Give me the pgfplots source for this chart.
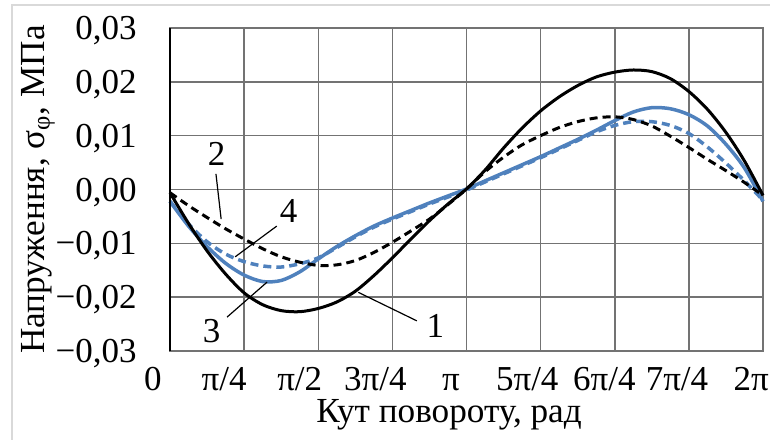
\documentclass[border=0pt]{standalone}
\usepackage{fontspec}
\setmainfont{Liberation Serif}
\usepackage{pgfplots}
\usepackage{pgfplotstable}
\pgfplotsset{compat=1.18}
\definecolor{blu}{HTML}{4F81BD}
\definecolor{gridc}{gray}{0.45}
\definecolor{framec}{gray}{0.85}
\newcommand\tf{\fontsize{17.5}{20}\selectfont}
\newcommand\lf{\fontsize{17.6}{21}\selectfont}

\pgfplotstableread{
t v
0 -0.0006
0.25 -0.0063
0.5 -0.0114
0.75 -0.0157
1.0 -0.0192
1.25 -0.0214
1.5 -0.0225
1.75 -0.0227
2.0 -0.0221
2.25 -0.0209
2.5 -0.0189
2.75 -0.0160
3.0 -0.0127
3.25 -0.0092
3.5 -0.0058
3.75 -0.0027
4.0 0.0001
4.25 0.0036
4.5 0.0077
4.75 0.0114
5.0 0.0146
5.25 0.0172
5.5 0.0193
5.75 0.0209
6.0 0.0218
6.25 0.0222
6.5 0.0219
6.75 0.0206
7.0 0.0182
7.25 0.0149
7.5 0.0106
7.75 0.0053
8.0 -0.0011
}\curveone

\pgfplotstableread{
t v
0 -0.0006
0.25 -0.0030
0.5 -0.0052
0.75 -0.0073
1.0 -0.0092
1.25 -0.0110
1.5 -0.0125
1.75 -0.0135
2.0 -0.0141
2.25 -0.0140
2.5 -0.0132
2.75 -0.0117
3.0 -0.0098
3.25 -0.0077
3.5 -0.0055
3.75 -0.0028
4.0 0.0001
4.25 0.0033
4.5 0.0060
4.75 0.0083
5.0 0.0100
5.25 0.0115
5.5 0.0126
5.75 0.0133
6.0 0.0135
6.25 0.0130
6.5 0.0118
6.75 0.0099
7.0 0.0078
7.25 0.0056
7.5 0.0035
7.75 0.0013
8.0 -0.0011
}\curvetwo

\pgfplotstableread{
t v
0 -0.0022
0.25 -0.0068
0.5 -0.0106
0.75 -0.0137
1.0 -0.0159
1.25 -0.0171
1.5 -0.0169
1.75 -0.0153
2.0 -0.0129
2.25 -0.0106
2.5 -0.0086
2.75 -0.0068
3.0 -0.0053
3.25 -0.0039
3.5 -0.0025
3.75 -0.0012
4.0 0.0001
4.25 0.0016
4.5 0.0031
4.75 0.0046
5.0 0.0061
5.25 0.0077
5.5 0.0093
5.75 0.0110
6.0 0.0128
6.25 0.0144
6.5 0.0152
6.75 0.0150
7.0 0.0139
7.25 0.0118
7.5 0.0084
7.75 0.0040
8.0 -0.0022
}\curvethree

\pgfplotstableread{
t v
0 -0.0022
0.25 -0.0064
0.5 -0.0097
0.75 -0.0120
1.0 -0.0134
1.25 -0.0142
1.5 -0.0144
1.75 -0.0138
2.0 -0.0127
2.25 -0.0108
2.5 -0.0088
2.75 -0.0070
3.0 -0.0055
3.25 -0.0041
3.5 -0.0027
3.75 -0.0014
4.0 -0.0001
4.25 0.0014
4.5 0.0029
4.75 0.0044
5.0 0.0059
5.25 0.0075
5.5 0.0091
5.75 0.0107
6.0 0.0119
6.25 0.0126
6.5 0.0126
6.75 0.0119
7.0 0.0104
7.25 0.0079
7.5 0.0049
7.75 0.0016
8.0 -0.0020
}\curvefour

\begin{document}
\begin{tikzpicture}
\draw[framec, line width=1pt] (6pt,-10pt) -- (6pt,216.75pt) -- (400pt,216.75pt);
\begin{axis}[
  at={(85pt,44pt)}, anchor=south west,
  scale only axis, width=296.5pt, height=161.5pt,
  xmin=0, xmax=8, ymin=-0.03, ymax=0.03,
  scaled x ticks=false, scaled y ticks=false,
  xtick={0.73,1.75,2.77,3.79,4.82,5.86,6.84,7.84},
  xticklabels={π/4,π/2,3π/4,π,5π/4,6π/4,7π/4,2π},
  extra x ticks={0},
  extra x tick labels={0},
  extra x tick style={grid=none, xticklabel style={xshift=-8.5pt}},
  minor xtick={1,2,3,4,5,6,7},
  xmajorgrids=false, xminorgrids=true, ymajorgrids=true,
  ytick={-0.03,-0.02,-0.01,0,0.01,0.02,0.03},
  yticklabels={{−0,03},{−0,02},{−0,01},{0,00},{0,01},{0,02},{0,03}},
  grid style={gridc, line width=0.75pt},
  minor grid style={gridc, line width=0.75pt},
  major tick length=0pt, minor tick length=0pt,
  axis line style={gridc, line width=0.75pt},
  tick label style={font=\tf, inner sep=0pt},
  xticklabel style={anchor=base, yshift=-19.5pt},
  yticklabel style={anchor=base east, xshift=-16.5pt, yshift=-5.8pt},
  xlabel={Кут повороту, рад},
  ylabel={Напруження, σ\textsubscript{φ}, МПа},
  label style={font=\lf},
  xlabel style={at={(axis description cs:0.4705,-0.222)}, anchor=base, inner sep=0pt},
  ylabel style={at={(axis description cs:-0.2225,0.5)}, anchor=center, inner sep=0pt},
  clip=false,
]
\addplot[blu, line width=1.75pt, smooth] table[x=t,y=v] {\curvethree};
\addplot[blu, line width=1.75pt, smooth, dash pattern=on 4pt off 2.5pt] table[x=t,y=v] {\curvefour};
\addplot[black, line width=1.5pt, smooth, dash pattern=on 4pt off 2.5pt] table[x=t,y=v] {\curvetwo};
\addplot[black, line width=1.5pt, smooth] table[x=t,y=v] {\curveone};
\draw[black, line width=1.1pt] (rel axis cs:0,0) -- (rel axis cs:0,1);
% annotations
\draw[black, line width=0.6pt] (axis cs:0.62,0.0029) -- (axis cs:0.69,-0.0055);
\node[inner sep=0pt, font=\tf] at (axis cs:0.63,0.0066) {2};
\draw[black, line width=0.6pt] (axis cs:1.44,-0.0068) -- (axis cs:0.88,-0.0125);
\node[inner sep=0pt, font=\tf] at (axis cs:1.6,-0.0039) {4};
\draw[black, line width=0.6pt] (axis cs:0.77,-0.0237) -- (axis cs:1.31,-0.0172);
\node[inner sep=0pt, font=\tf] at (axis cs:0.56,-0.0263) {3};
\draw[black, line width=0.6pt] (axis cs:3.33,-0.0244) -- (axis cs:2.54,-0.0191);
\node[inner sep=0pt, font=\tf] at (axis cs:3.58,-0.0253) {1};
\end{axis}
\pgfresetboundingbox
\useasboundingbox (0,0) rectangle (385pt,219.5pt);
\end{tikzpicture}
\end{document}
